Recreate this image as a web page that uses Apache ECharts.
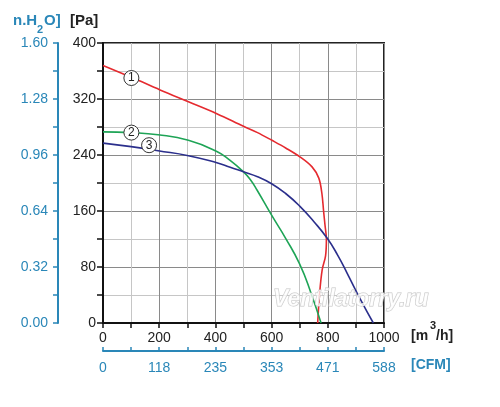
<!DOCTYPE html>
<html>
<head>
<meta charset="utf-8">
<script src="https://cdn.jsdelivr.net/npm/echarts@6/dist/echarts.min.js"></script>
<style>
  html, body { margin: 0; padding: 0; background: #fff; }
  #fanChart { width: 500px; height: 407px; }
</style>
</head>
<body>
<div id="fanChart"></div>
<script>
// кривые вентилятора: [расход м3/ч, давление Па]
var curve1 = [[0, 368], [101, 351], [203, 333], [304, 316], [405, 299], [500, 281], [550, 272],
  [601, 261], [650, 250], [702, 237], [744, 223], [768, 207], [779, 185], [785, 160],
  [790, 140], [795, 120], [792, 96], [780, 76], [771, 43], [764, 0]];
var curve2 = [[0, 273], [100, 272], [196, 269], [304, 261], [405, 245], [450, 233], [500, 216],
  [524, 205], [548, 190], [600, 154], [650, 121], [700, 84], [740, 43], [776, 0]];
var curve3 = [[0, 257], [100, 252], [196, 246], [304, 239], [405, 229], [450, 223], [500, 216],
  [550, 209], [600, 199], [650, 185], [700, 167], [750, 145], [798, 121], [835, 97],
  [869, 71], [917, 33], [962, 0]];

var curveNames = ['1', '2', '3'];
var cfmLabels = ['0', '118', '235', '353', '471', '588'];   // под 0,200,...,1000 м3/ч
var h2oLabels = ['0.00', '0.32', '0.64', '0.96', '1.28', '1.60'];

var BLUE = '#2a87b8';
var FONT = '"Liberation Sans", Arial, sans-serif';

function circleMark(coord, txt) {
  return { coord: coord, value: txt };
}

function lineSeries(name, data, color, smooth, marks) {
  return {
    name: name,
    type: 'line',
    data: data,
    symbol: 'none',
    smooth: smooth,
    lineStyle: { color: color, width: 1.6 },
    z: 3,
    markPoint: {
      symbol: 'circle',
      symbolSize: 15,
      silent: true,
      itemStyle: { color: '#fff', borderColor: '#333', borderWidth: 1 },
      label: { show: true, color: '#222', fontSize: 12, fontFamily: FONT, formatter: '{c}' },
      data: marks
    }
  };
}

var chart = echarts.init(document.getElementById('fanChart'));

var option = {
  animation: false,
  textStyle: { fontFamily: FONT },
  grid: {
    left: 103, top: 43, width: 281, height: 280,
    show: true, borderColor: '#222', borderWidth: 2, backgroundColor: 'transparent'
  },
  xAxis: [
    {
      type: 'value', min: 0, max: 1000, interval: 100,
      axisLine: { onZero: false, lineStyle: { color: '#111', width: 2 } },
      axisTick: { show: true, length: 5, lineStyle: { color: '#111', width: 1.5 } },
      axisLabel: {
        color: '#222', fontSize: 14, margin: 8,
        formatter: function (v) { return v % 200 === 0 ? String(v) : ''; }
      },
      splitLine: { show: true, lineStyle: { color: ['#8a8a8a', '#c6c6c6'], width: 1 } }
    },
    {
      type: 'value', min: 0, max: 1000, interval: 100, position: 'bottom', offset: 28,
      axisLine: { show: true, onZero: false, lineStyle: { color: BLUE, width: 2 } },
      axisTick: { show: true, inside: true, length: 4, lineStyle: { color: BLUE, width: 1.5 } },
      axisLabel: {
        color: BLUE, fontSize: 14, margin: 10,
        formatter: function (v) { return v % 200 === 0 ? cfmLabels[v / 200] : ''; }
      },
      splitLine: { show: false }
    }
  ],
  yAxis: [
    {
      type: 'value', min: 0, max: 400, interval: 40,
      axisLine: { show: true, onZero: false, lineStyle: { color: '#111', width: 2 } },
      axisTick: { show: true, length: 6, lineStyle: { color: '#111', width: 1.5 } },
      axisLabel: {
        color: '#222', fontSize: 14, margin: 7,
        formatter: function (v) { return v % 80 === 0 ? String(v) : ''; }
      },
      splitLine: { show: true, lineStyle: { color: ['#8a8a8a', '#c6c6c6'], width: 1 } }
    },
    {
      type: 'value', min: 0, max: 1.6, interval: 0.16, position: 'left', offset: 45,
      axisLine: { show: true, onZero: false, lineStyle: { color: BLUE, width: 2 } },
      axisTick: { show: true, length: 5, lineStyle: { color: BLUE, width: 1.5 } },
      axisLabel: {
        color: BLUE, fontSize: 14, margin: 10,
        formatter: function (v) {
          var i = Math.round(v / 0.16);
          return i % 2 === 0 ? h2oLabels[i / 2] : '';
        }
      },
      splitLine: { show: false }
    }
  ],
  series: [
    lineSeries('1', curve1, '#e52a2f', 0.35, [circleMark([101, 350], curveNames[0])]),
    lineSeries('2', curve2, '#1ea456', 0.5, [circleMark([101, 272], curveNames[1])]),
    lineSeries('3', curve3, '#2b2f8c', 0.5, [circleMark([164, 254], curveNames[2])])
  ],
  graphic: [
    // подписи единиц
    { type: 'text', x: 13, y: 21, style: { text: 'n.H', fill: BLUE, font: 'bold 15px ' + FONT, verticalAlign: 'middle' } },
    { type: 'text', x: 37, y: 30, style: { text: '2', fill: BLUE, font: 'bold 11px ' + FONT, verticalAlign: 'middle' } },
    { type: 'text', x: 44, y: 21, style: { text: 'O]', fill: BLUE, font: 'bold 15px ' + FONT, verticalAlign: 'middle' } },
    { type: 'text', x: 70, y: 21, style: { text: '[Pa]', fill: '#222', font: 'bold 15px ' + FONT, verticalAlign: 'middle' } },
    { type: 'text', x: 411, y: 336, style: { text: '[m', fill: '#222', font: 'bold 14px ' + FONT, verticalAlign: 'middle' } },
    { type: 'text', x: 430, y: 326, style: { text: '3', fill: '#222', font: 'bold 11px ' + FONT, verticalAlign: 'middle' } },
    { type: 'text', x: 436, y: 336, style: { text: '/h]', fill: '#222', font: 'bold 14px ' + FONT, verticalAlign: 'middle' } },
    { type: 'text', x: 411, y: 365, style: { text: '[CFM]', fill: BLUE, font: 'bold 14px ' + FONT, verticalAlign: 'middle' } },
    // водяной знак
    {
      type: 'text', x: 273, y: 300, z: 10, silent: true,
      style: {
        text: 'Ventilatorry.ru', font: 'italic bold 23px ' + FONT, verticalAlign: 'middle',
        fill: 'rgba(255,255,255,0.75)', stroke: '#c4c4c4', lineWidth: 1
      }
    }
  ]
};

chart.setOption(option);
</script>
</body>
</html>
